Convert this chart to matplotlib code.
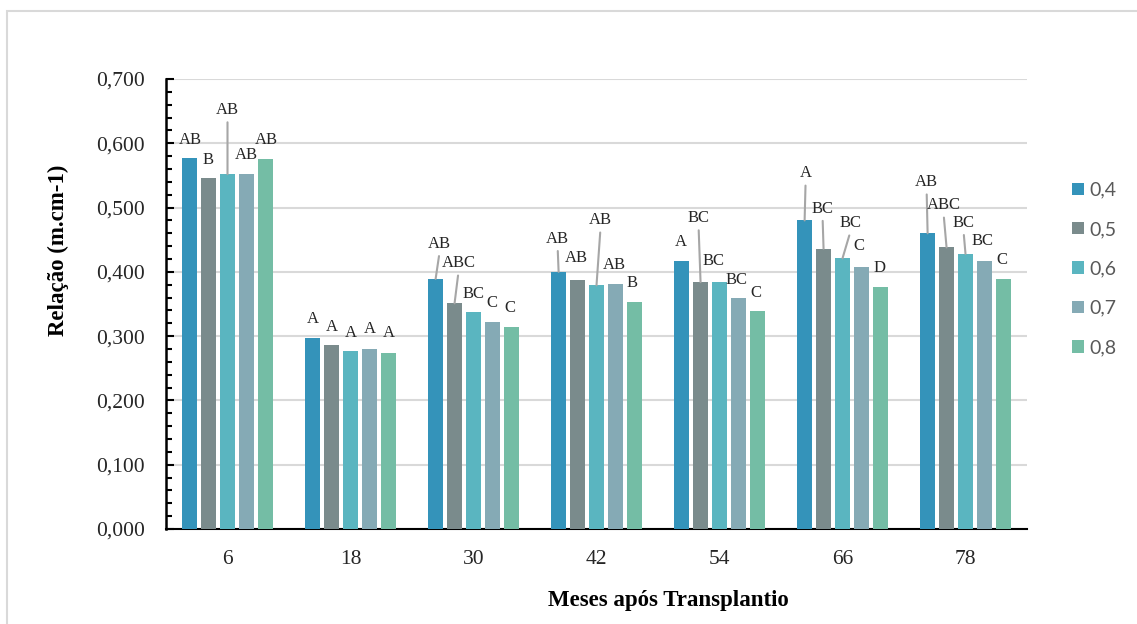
import matplotlib
matplotlib.use("Agg")
import matplotlib.pyplot as plt
import numpy as np
from matplotlib.patches import Patch, Rectangle
from matplotlib.ticker import MultipleLocator, FuncFormatter

# ---- data ----
months = ["6", "18", "30", "42", "54", "66", "78"]
series_names = ["0,4", "0,5", "0,6", "0,7", "0,8"]
s04 = [0.577, 0.297, 0.389, 0.400, 0.417, 0.480, 0.460]
s05 = [0.546, 0.286, 0.351, 0.388, 0.384, 0.436, 0.438]
s06 = [0.552, 0.277, 0.338, 0.379, 0.384, 0.421, 0.428]
s07 = [0.552, 0.280, 0.322, 0.381, 0.360, 0.407, 0.417]
s08 = [0.576, 0.274, 0.315, 0.353, 0.339, 0.376, 0.389]
values = [s04, s05, s06, s07, s08]

lab04 = ["AB", "A", "AB", "AB", "A", "A", "AB"]
lab05 = ["B", "A", "ABC", "AB", "BC", "BC", "ABC"]
lab06 = ["AB", "A", "BC", "AB", "BC", "BC", "BC"]
lab07 = ["AB", "A", "C", "AB", "BC", "C", "BC"]
lab08 = ["AB", "A", "C", "B", "C", "D", "C"]
letters = [lab04, lab05, lab06, lab07, lab08]

# ---- label placement (pixels relative to bar top centre) ----
dx04 = [1, 0, 4, -1, -1, 1, -1]
dy04 = [18, 19, 35, 33, 19, 47, 51]
ld04 = [0, 0, 1, 1, 0, 1, 1]
dx05 = [-1, 0, 4, -1, -2, -1, -3]
dy05 = [18, 18, 40, 22, 64, 40, 42]
ld05 = [0, 0, 1, 0, 1, 1, 1]
dx06 = [0, 0, 0, 4, -6, 8, -2]
dy06 = [64, 18, 18, 65, 21, 35, 31]
ld06 = [1, 0, 0, 1, 0, 1, 1]
dx07 = [0, 0, -1, -1, -2, -3, -2]
dy07 = [19, 20, 19, 19, 18, 21, 20]
ld07 = [0, 0, 0, 0, 0, 0, 0]
dx08 = [1, 0, -2, -2, -2, -1, -2]
dy08 = [19, 20, 19, 19, 18, 19, 19]
ld08 = [0, 0, 0, 0, 0, 0, 0]
dxs = [dx04, dx05, dx06, dx07, dx08]
dys = [dy04, dy05, dy06, dy07, dy08]
lds = [ld04, ld05, ld06, ld07, ld08]

colors = ["#3493BA", "#7A8B8C", "#5AB5C0", "#85AAB5", "#74BDA5"]

W, H = 1137, 624
fig = plt.figure(figsize=(W / 100, H / 100), dpi=100)
fig.patch.set_facecolor("white")
# outer chart border
fig.add_artist(Rectangle((7 / W, -0.05), (W + 20) / W, 1 - 11 / H + 0.05,
                         transform=fig.transFigure, fill=False,
                         edgecolor="#d9d9d9", lw=1.5))

ax = fig.add_axes([166 / W, 1 - 529 / H, (1027 - 166) / W, (529 - 79) / H])

x = np.arange(len(months))
pitch = 0.154
bw = 0.126
serif = "Liberation Serif"
for i, (vals, col, name) in enumerate(zip(values, colors, series_names)):
    pos = x + (i - 2) * pitch
    ax.bar(pos, vals, width=bw, color=col, label=name, zorder=3)
    for j in range(len(months)):
        kw = dict(xy=(pos[j], vals[j]), xytext=(dxs[i][j], dys[i][j]),
                  textcoords="offset pixels", ha="center", va="center",
                  fontsize=12, family=serif, color="#262626", zorder=5)
        if lds[i][j]:
            kw["arrowprops"] = dict(arrowstyle="-", color="#a6a6a6", lw=1.5,
                                    shrinkA=1, shrinkB=0, relpos=(0.5, 0))
        ax.annotate(letters[i][j], **kw)

ax.set_xlim(-0.5, len(months) - 0.5)
ax.set_ylim(0, 0.7)
ax.yaxis.set_major_locator(MultipleLocator(0.1))
ax.yaxis.set_minor_locator(MultipleLocator(0.02))
ax.yaxis.set_major_formatter(FuncFormatter(lambda v, p: f"{v:.3f}".replace(".", ",")))
ax.grid(axis="y", which="major", color="#d9d9d9", lw=1.5, zorder=0)
ax.set_axisbelow(True)

for s in ["top", "right"]:
    ax.spines[s].set_visible(False)
ax.spines["left"].set_linewidth(1.8)
ax.spines["bottom"].set_linewidth(1.5)

ax.set_xticks(x)
ax.set_xticklabels(months)
ax.tick_params(axis="x", length=0, pad=15, labelsize=15.5)
ax.tick_params(axis="y", which="major", direction="in", length=6, width=1.5, pad=15, labelsize=15.5)
ax.tick_params(axis="y", which="minor", direction="in", length=4, width=1.5)
for lbl in ax.get_xticklabels() + ax.get_yticklabels():
    lbl.set_family(serif)
    lbl.set_color("#262626")

ax.set_ylabel("Relação (m.cm-1)", family=serif, fontweight="bold", fontsize=16.5)
ax.yaxis.set_label_coords(-0.113, 0.62)
ax.set_xlabel("Meses após Transplantio", family=serif, fontweight="bold", fontsize=16.5)
ax.xaxis.set_label_coords(0.584, -0.135)

handles = [Patch(facecolor=c, edgecolor="none") for c in colors]
leg = fig.legend(handles, series_names, loc="center left",
                 bbox_to_anchor=(1072 / W, 1 - 269 / H), frameon=False,
                 prop={"family": "Lato", "size": 14},
                 handlelength=0.6, handleheight=0.6, handletextpad=0.3,
                 labelspacing=1.15, borderaxespad=0, borderpad=0)
for t in leg.get_texts():
    t.set_color("#595959")

fig.savefig("out.png", dpi=100)
